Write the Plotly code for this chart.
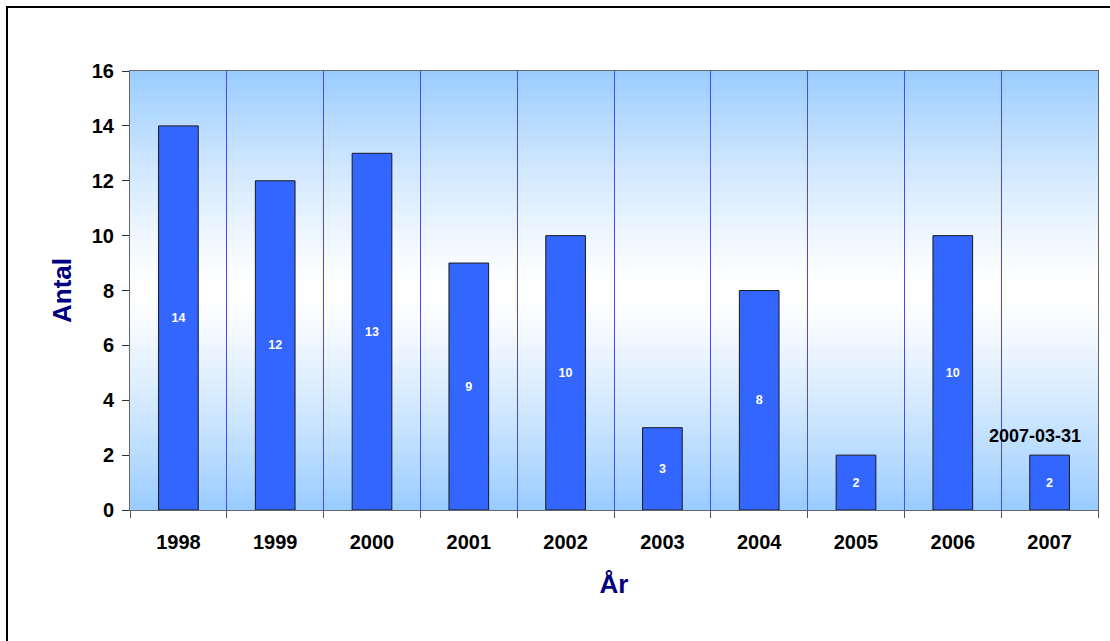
import plotly.graph_objects as go

years = ["1998", "1999", "2000", "2001", "2002", "2003", "2004", "2005", "2006", "2007"]
antal = [14, 12, 13, 9, 10, 3, 8, 2, 10, 2]
note_text = "2007-03-31"

W, H = 1110, 641
ml, mr, mt, mb = 130, 12, 71, 131
pw, ph = W - ml - mr, H - mt - mb

fig = go.Figure()
fig.add_trace(go.Bar(
    x=years, y=antal, width=0.41,
    marker=dict(color="#3366FF", line=dict(color="#1a1a1a", width=1)),
    text=[str(v) for v in antal], textposition="inside", insidetextanchor="middle",
    textangle=0,
    textfont=dict(color="white", size=12.5, family="Liberation Sans", weight="bold"),
    hoverinfo="skip",
))

# gradient background strips
shapes = []
N = 90
top = (0x99, 0xCC, 0xFF)
for i in range(N):
    f0, f1 = i / N, (i + 1) / N
    fc = (f0 + f1) / 2  # fraction from top
    d = abs(fc - 0.5) / 0.5
    d = d ** 1.3
    c = tuple(int(round(255 + (t - 255) * d)) for t in top)
    shapes.append(dict(type="rect", xref="x domain", yref="y domain",
                       x0=0, x1=1, y0=1 - f1, y1=1 - f0 + 0.002,
                       fillcolor="rgb(%d,%d,%d)" % c, line=dict(width=0), layer="below"))
# outer border
shapes.append(dict(type="rect", xref="paper", yref="paper",
                   x0=(7 - ml) / pw, x1=(1125 - ml) / pw,
                   y0=(H - mb - 660) / ph, y1=1 + (mt - 7) / ph,
                   line=dict(color="black", width=2), fillcolor="rgba(0,0,0,0)", layer="above"))

fig.update_layout(
    width=W, height=H, margin=dict(l=ml, r=mr, t=mt, b=mb),
    paper_bgcolor="white", plot_bgcolor="white",
    showlegend=False, shapes=shapes, bargap=0.59,
    font=dict(family="Liberation Sans", color="black"),
    annotations=[dict(x=9, y=2, text=note_text, showarrow=False,
                      yanchor="bottom", yshift=7, xshift=-15,
                      font=dict(size=18, family="Liberation Sans", weight="bold", color="black"))],
)
fig.update_xaxes(
    type="category", range=[-0.5, 9.5], autorange=False,
    categoryorder="array", categoryarray=years,
    tickson="boundaries", showgrid=True, gridcolor="#4848f4", gridwidth=1,
    ticks="outside", ticklen=7, tickcolor="#555555", tickangle=0,
    ticklabelstandoff=14,
    showline=True, linecolor="#666666", mirror=True,
    tickfont=dict(size=20, family="Liberation Sans", weight="bold", color="black"),
    title=dict(text="År", standoff=22,
               font=dict(size=26, family="Liberation Sans", weight="bold", color="#000080")),
)
fig.update_yaxes(
    range=[0, 16], dtick=2, showgrid=False, zeroline=False,
    ticks="outside", ticklen=7, tickcolor="#333333",
    ticklabelstandoff=4,
    showline=True, linecolor="#666666", mirror=True,
    tickfont=dict(size=20, family="Liberation Sans", weight="bold", color="black"),
    title=dict(text="Antal", standoff=12,
               font=dict(size=26, family="Liberation Sans", weight="bold", color="#000080")),
)
fig.write_html("out.html")
